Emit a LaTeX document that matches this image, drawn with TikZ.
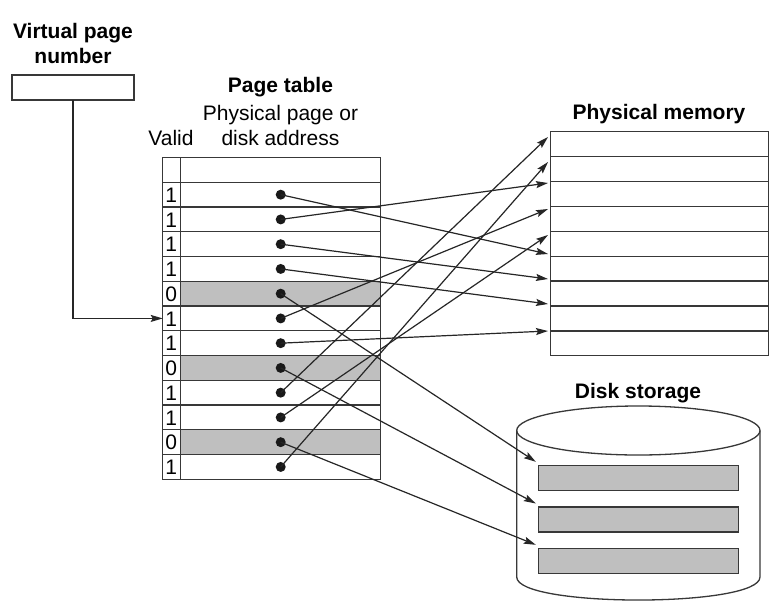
\documentclass[tikz,border=0pt]{standalone}
\usepackage{fontspec}
\setmainfont{Liberation Sans}
\usetikzlibrary{arrows.meta,calc}
\begin{document}
\begin{tikzpicture}[x=1pt,y=-1pt,
  ln/.style={draw=black!78, line width=1.3pt},
  box/.style={draw=black!78, line width=1.3pt, inner sep=0pt, outer sep=0pt},
  cell/.style={inner sep=0pt, outer sep=0pt},
  arr/.style={draw=black!85, line width=1.2pt, -{Stealth[length=12pt,width=7pt,inset=2pt]}},
  lbl/.style={font=\fontsize{21}{25}\selectfont, inner sep=0pt, anchor=base},
  blbl/.style={font=\fontsize{21}{25}\selectfont\bfseries, inner sep=0pt, anchor=base},
  dot/.style={circle, fill=black!90, inner sep=0pt, minimum size=10pt},
  shaded/.style={fill=black!25},
]
\fill[white] (0,0) rectangle (783,610);
\useasboundingbox (0,0) rectangle (783,610);

% virtual page number
\node[blbl] (vt1) at (73,38.3) {Virtual page};
\node[blbl] (vt2) at (73,63.3) {number};
\node[box, minimum width=122pt, minimum height=25pt] (vpn) at (73,87.5) {};

% page table headings
\node[blbl] (pt) at (280.5,92.3) {Page table};
\node[lbl] (ph1) at (280.5,120) {Physical page or};
\node[lbl] (ph2) at (280.5,145.7) {disk address};
\node[lbl] (valid) at (171,145.7) {Valid};

% header row
\node[cell, minimum width=18pt, minimum height=25pt] (vh) at (171.7,169.8) {};
\node[cell, minimum width=200pt, minimum height=25pt] (th) at (280.7,169.8) {};

% rows
\foreach \i/\v in {1/1,2/1,3/1,4/1,5/0,6/1,7/1,8/0,9/1,10/1,11/0,12/1}{
  \pgfmathsetmacro{\yc}{182.3+24.75*(\i-0.5)}
  \ifnum\v=0
    \node[cell, shaded, minimum width=200pt, minimum height=24.75pt] (r\i) at (280.7,\yc) {};
  \else
    \node[cell, minimum width=200pt, minimum height=24.75pt] (r\i) at (280.7,\yc) {};
  \fi
  \node[cell, minimum width=18pt, minimum height=24.75pt] (v\i) at (171.7,\yc) {};
  \node[lbl] (n\i) at (171.2,\yc+7.8) {\v};
}
% table grid
\draw[ln] (vh.north west) rectangle (r12.south east);
\draw[ln] (vh.north east) -- (v12.south east);
\foreach \i in {1,...,12}{
  \draw[ln] (v\i.north west) -- (r\i.north east);
}

% physical memory
\node[blbl] (pmt) at (659,119.3) {Physical memory};
\foreach \i in {1,...,9}{
  \pgfmathsetmacro{\yc}{131.7+24.9*(\i-0.5)}
  \node[cell, minimum width=217.6pt, minimum height=24.9pt] (m\i) at (659.5,\yc) {};
}
\draw[ln] (m1.north west) rectangle (m9.south east);
\foreach \i in {2,...,9}{
  \draw[ln] (m\i.north west) -- (m\i.north east);
}
\coordinate (p1) at (548,137);
\coordinate (p2) at (548,162);
\coordinate (p3) at (548,183);
\coordinate (p4) at (548,209);
\coordinate (p5) at (548,235);
\coordinate (p6) at (548,254);
\coordinate (p7) at (548,279);
\coordinate (p8) at (548,304);
\coordinate (p9) at (548,331);

% disk storage
\node[blbl] (dst) at (638,398.3) {Disk storage};
\draw[ln] (516.7,430.5) -- (516.7,577)
  .. controls (516.7,607.7) and (760,607.7) .. (760,577) -- (760,430.5);
\draw[ln] (638.35,430.5) ellipse [x radius=121.65pt, y radius=24.5pt];
\node[box, shaded, minimum width=200pt, minimum height=25pt] (b1) at (638.3,478.3) {};
\node[box, shaded, minimum width=200pt, minimum height=25pt] (b2) at (638.3,519.5) {};
\node[box, shaded, minimum width=200pt, minimum height=25pt] (b3) at (638.3,560.8) {};
\coordinate (k1) at ($(b1.north west)+(-2.5,-4)$);
\coordinate (k2) at ($(b2.north west)+(-2.5,-3.5)$);
\coordinate (k3) at ($(b3.north west)+(-2.5,-3.5)$);

% dots
\foreach \i in {1,...,12}{
  \node[dot] (d\i) at (r\i.center) {};
}

% connectors
\draw[arr] (d1.center) -- (p6);
\draw[arr] (d2.center) -- (p3);
\draw[arr] (d3.center) -- (p7);
\draw[arr] (d4.center) -- (p8);
\draw[arr] (d5.center) -- (k1);
\draw[arr] (d6.center) -- (p4);
\draw[arr] (d7.center) -- (p9);
\draw[arr] (d8.center) -- (k2);
\draw[arr] (d9.center) -- (p1);
\draw[arr] (d10.center) -- (p5);
\draw[arr] (d11.center) -- (k3);
\draw[arr] (d12.center) -- (p2);

% virtual page number arrow
\draw[arr] (vpn.south) |- (v6.west);
\end{tikzpicture}
\end{document}
